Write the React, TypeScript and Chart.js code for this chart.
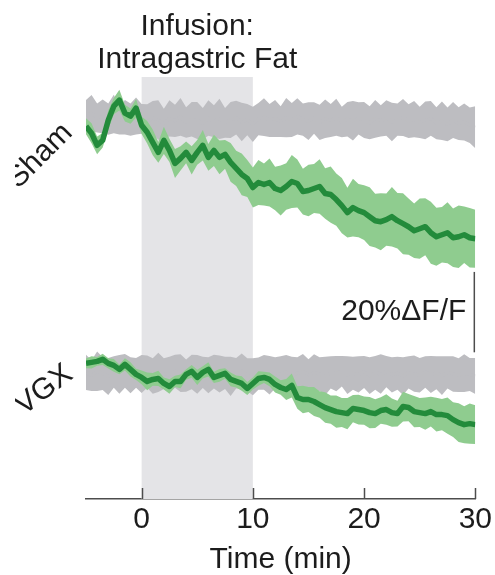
import { useEffect, useRef } from "react";
import { Chart, registerables } from "chart.js";

Chart.register(...registerables);

// Time axis (min)
const TIME: number[] = [
  -5, -4.5, -4, -3.5, -3, -2.5, -2, -1.5, -1, -0.5,
  0, 0.5, 1, 1.5, 2, 2.5, 3, 3.5, 4, 4.5, 5, 5.5, 6, 6.5, 7, 7.5, 8, 8.5, 9, 9.5,
  10, 10.5, 11, 11.5, 12, 12.5, 13, 13.5, 14, 14.5, 15, 15.5, 16, 16.5, 17, 17.5, 18, 18.5, 19, 19.5,
  20, 20.5, 21, 21.5, 22, 22.5, 23, 23.5, 24, 24.5, 25, 25.5, 26, 26.5, 27, 27.5, 28, 28.5, 29, 29.5, 30,
];
const X_TICKS: number[] = [0, 10, 20, 30];
const INFUSION: number[] = [0, 10];
const TITLE_LINES: string[] = ["Infusion:", "Intragastric Fat"];
const X_TITLE = "Time (min)";
const PANELS: string[] = ["Sham", "VGX"];
const SCALE_BAR_LABEL = "20%ΔF/F";
const SCALE_BAR_VALUE = 20;

// %ΔF/F, Sham panel
const SHAM_FAT_MEAN: number[] = [
  -1.25, -3.0, -6.0, -4.75, 0.25, 3.75, 5.25, 2.0, 1.25, 3.25,
  -1.0, -2.75, -5.25, -7.75, -4.75, -7.25, -10.5, -9.25, -7.75, -9.75,
  -7.75, -6.0, -9.0, -7.25, -9.0, -8.25, -10.25, -11.75, -13.25, -14.25,
  -16.5, -15.25, -15.75, -15.25, -16.75, -17.25, -16.25, -15.0, -15.5, -17.5,
  -17.25, -16.75, -16.25, -18.0, -18.25, -19.5, -21.0, -22.75, -21.5, -22.25,
  -22.75, -23.75, -24.75, -25.0, -24.5, -23.75, -24.75, -25.5, -26.25, -27.25,
  -26.75, -26.25, -27.75, -28.75, -28.25, -27.75, -29.0, -28.75, -28.25, -29.0, -29.25,
];
const SHAM_FAT_SEM: number[] = [
  2.0, 2.5, 2.2, 1.8, 2.4, 2.0, 2.6, 2.1, 1.9, 2.3,
  2.2, 2.8, 3.2, 2.6, 3.4, 2.9, 3.6, 3.0, 2.7, 3.5,
  3.1, 3.8, 3.3, 3.9, 4.2, 3.6, 4.8, 4.4, 5.2, 4.6,
  5.0, 5.6, 5.2, 6.0, 5.4, 6.2, 5.8, 6.6, 6.0, 5.7,
  6.4, 6.1, 6.8, 6.3, 7.0, 6.5, 6.9, 6.2, 7.2, 6.6,
  6.8, 7.3, 6.7, 7.1, 6.5, 7.4, 6.9, 7.6, 7.0, 6.8,
  7.5, 7.1, 7.7, 7.2, 6.9, 7.6, 7.3, 7.8, 7.0, 7.4, 7.2,
];
const SHAM_CTRL_MEAN: number[] = [
  1.5, 2.0, 0.8, 1.2, 0.5, 1.8, 0.2, 1.0, 0.4, 1.3,
  0.6, -0.2, 0.9, 0.3, -0.5, 0.7, 0.1, 1.1, -0.3, 0.5,
  0.2, -0.6, 0.8, 0.0, 0.6, -0.4, 0.3, 0.9, -0.2, 0.4,
  -0.8, 0.5, 1.0, 0.2, 0.7, -0.1, 0.9, 0.3, 1.2, 0.4,
  0.0, 0.8, -0.3, 0.6, 0.2, 1.0, -0.2, 0.5, 0.1, 0.7,
  0.3, -0.4, 0.6, 0.1, 0.8, -0.2, 0.4, 0.9, 0.0, 0.5,
  -0.3, 0.2, 0.7, -0.5, 0.1, -0.8, 0.3, -0.6, -0.2, -1.0, -1.5,
];
const SHAM_CTRL_SEM: number[] = [
  3.8, 4.5, 3.6, 4.2, 3.9, 4.8, 3.5, 4.3, 4.0, 4.6,
  3.7, 4.4, 4.1, 4.9, 3.6, 4.5, 4.0, 4.7, 3.8, 4.3,
  4.6, 3.9, 4.4, 4.0, 5.0, 3.7, 4.5, 4.2, 4.8, 3.9,
  4.4, 4.0, 4.7, 4.1, 4.6, 3.8, 4.9, 4.2, 4.5, 4.0,
  4.7, 3.9, 4.4, 4.8, 4.1, 4.6, 3.8, 4.3, 4.9, 4.0,
  4.5, 4.1, 4.7, 3.9, 4.4, 4.8, 4.0, 4.6, 4.2, 4.5,
  3.9, 4.7, 4.3, 4.0, 4.8, 4.2, 4.5, 4.1, 4.6, 4.4, 5.2,
];

// %ΔF/F, VGX panel
const VGX_FAT_MEAN: number[] = [
  2.75, 3.0, 3.25, 3.75, 2.75, 2.25, 1.25, 2.5, 1.25, 0.0,
  -0.75, -1.75, -1.25, -1.0, -2.25, -3.0, -1.75, -1.75, 0.0, 0.75,
  -0.75, 0.5, 1.25, -0.75, -0.25, 0.25, -1.25, -1.75, -2.25, -3.5,
  -2.25, -1.0, -0.75, -1.25, -2.5, -3.25, -3.75, -2.75, -5.75, -6.25,
  -6.25, -6.75, -7.5, -8.25, -8.75, -9.25, -9.5, -9.75, -8.5, -8.75,
  -9.0, -9.5, -9.75, -9.0, -8.75, -9.5, -9.75, -8.0, -8.25, -9.25,
  -9.5, -9.75, -9.25, -10.0, -10.0, -10.25, -11.25, -12.0, -12.5, -12.25, -12.5,
];
const VGX_FAT_SEM: number[] = [
  1.2, 1.5, 1.1, 1.4, 1.3, 1.6, 1.2, 1.5, 1.8, 1.4,
  1.7, 2.2, 1.6, 1.9, 1.5, 1.8, 1.4, 1.7, 1.3, 1.6,
  1.9, 1.5, 1.8, 1.4, 1.6, 1.3, 1.7, 1.5, 1.8, 1.6,
  1.5, 1.8, 1.4, 1.7, 2.0, 1.8, 2.6, 3.0, 2.8, 3.4,
  3.1, 3.6, 3.3, 3.8, 3.5, 4.0, 3.6, 3.9, 3.4, 3.7,
  3.5, 3.9, 3.6, 3.3, 3.8, 3.5, 3.2, 3.7, 3.4, 3.9,
  3.6, 4.0, 3.7, 4.2, 3.9, 4.5, 4.3, 4.8, 4.6, 5.0, 4.8,
];
const VGX_CTRL_MEAN: number[] = [
  0.5, -0.3, 0.8, 0.2, -0.5, 0.6, 0.0, 0.9, -0.2, 0.4,
  0.1, 0.7, -0.4, 0.5, 0.2, -0.1, 0.8, 0.3, -0.3, 0.6,
  0.0, 0.5, -0.2, 0.7, 0.1, 0.4, -0.5, 0.3, 0.8, -0.1,
  -0.6, 0.2, 0.5, -0.2, 0.4, 0.0, 0.6, -0.3, 0.3, 0.7,
  -0.1, 0.4, 0.1, -0.4, 0.5, 0.2, 0.8, -0.2, 0.3, 0.0,
  0.6, -0.3, 0.4, 0.1, 0.7, -0.1, 0.3, -0.4, 0.5, 0.2,
  -0.2, 0.6, 0.0, 0.4, -0.3, 0.5, 0.1, -0.2, 0.3, 0.0, -0.4,
];
const VGX_CTRL_SEM: number[] = [
  4.4, 3.8, 4.9, 4.1, 4.6, 3.9, 4.8, 4.2, 4.5, 3.7,
  4.7, 4.0, 4.4, 4.9, 3.8, 4.5, 4.1, 4.7, 4.0, 4.3,
  4.8, 3.9, 4.5, 4.2, 4.6, 4.0, 4.9, 3.8, 4.4, 4.1,
  4.6, 4.0, 4.3, 4.8, 3.9, 4.5, 4.2, 4.7, 4.0, 4.4,
  3.9, 4.6, 4.2, 4.8, 4.0, 4.4, 3.8, 4.7, 4.1, 4.5,
  4.0, 4.6, 4.2, 4.9, 3.9, 4.4, 4.1, 4.7, 4.0, 4.5,
  4.3, 3.9, 4.6, 4.1, 4.8, 4.0, 4.4, 4.2, 4.7, 4.1, 4.5,
];

// vertical placement of each panel on the shared y scale
const SHAM_OFFSET = 0;
const VGX_OFFSET = -63;
const SCALE_BAR_TOP = -37.5;

const FONT = "'Liberation Sans', Arimo, Arial, sans-serif";
const TEXT = "#1c1c1c";
const AXIS = "#4d4d4d";
const GRAY = "#bdbdc1";
const GREEN = "#238b3b";
const LIGHT_GREEN = "#8fcc8f";
const SHADE = "#e4e4e7";

function pts(mean: number[], sem: number[] | null, sign: number, offset: number) {
  return TIME.map((t, i) => ({ x: t, y: offset + mean[i] + (sem ? sign * sem[i] : 0) }));
}

function panelSets(ctrlMean: number[], ctrlSem: number[], fatMean: number[], fatSem: number[], offset: number) {
  return [
    { data: pts(fatMean, null, 0, offset), borderColor: GREEN, borderWidth: 5.5, order: 0, fill: false },
    { data: pts(fatMean, fatSem, 1, offset), borderWidth: 0, borderColor: "rgba(0,0,0,0)", backgroundColor: LIGHT_GREEN, fill: "+1", order: 1 },
    { data: pts(fatMean, fatSem, -1, offset), borderWidth: 0, borderColor: "rgba(0,0,0,0)", fill: false, order: 1 },
    { data: pts(ctrlMean, null, 0, offset), borderColor: GRAY, borderWidth: 3, order: 2, fill: false },
    { data: pts(ctrlMean, ctrlSem, 1, offset), borderWidth: 0, borderColor: "rgba(0,0,0,0)", backgroundColor: GRAY, fill: "+1", order: 3 },
    { data: pts(ctrlMean, ctrlSem, -1, offset), borderWidth: 0, borderColor: "rgba(0,0,0,0)", fill: false, order: 3 },
  ];
}

const decor = {
  id: "decor",
  beforeDatasetsDraw(chart: any) {
    const { ctx, chartArea, scales } = chart;
    const x = scales.x;
    const x0 = x.getPixelForValue(INFUSION[0]);
    const x1 = x.getPixelForValue(INFUSION[1]);
    ctx.save();
    ctx.fillStyle = SHADE;
    ctx.fillRect(x0, chartArea.top, x1 - x0, chartArea.bottom - chartArea.top);
    ctx.restore();
  },
  afterDraw(chart: any) {
    const { ctx, chartArea, scales } = chart;
    const x = scales.x;
    const y = scales.y;
    ctx.save();
    // inward tick marks
    ctx.strokeStyle = AXIS;
    ctx.lineWidth = 1.5;
    for (const v of X_TICKS) {
      const px = Math.round(x.getPixelForValue(v)) + 0.5;
      ctx.beginPath();
      ctx.moveTo(px, chartArea.bottom);
      ctx.lineTo(px, chartArea.bottom - 11);
      ctx.stroke();
    }
    // scale bar
    const sbx = x.getPixelForValue(x.max) - 1;
    ctx.beginPath();
    ctx.moveTo(sbx, y.getPixelForValue(SCALE_BAR_TOP));
    ctx.lineTo(sbx, y.getPixelForValue(SCALE_BAR_TOP - SCALE_BAR_VALUE));
    ctx.stroke();
    ctx.fillStyle = TEXT;
    ctx.font = `30px ${FONT}`;
    ctx.textAlign = "right";
    ctx.textBaseline = "alphabetic";
    ctx.fillText(SCALE_BAR_LABEL, sbx - 8, y.getPixelForValue(SCALE_BAR_TOP - 12));
    // title
    ctx.textAlign = "center";
    const cx = x.getPixelForValue((INFUSION[0] + INFUSION[1]) / 2);
    ctx.fillText(TITLE_LINES[0], cx, 35);
    ctx.fillText(TITLE_LINES[1], cx, 68);
    // panel labels
    ctx.beginPath();
    ctx.rect(15, 0, 100, chart.height);
    ctx.clip();
    const labels = [
      { text: PANELS[0], cx: 40, cy: 156, rot: -45 },
      { text: PANELS[1], cx: 44, cy: 390, rot: -37 },
    ];
    ctx.textBaseline = "middle";
    for (const l of labels) {
      ctx.save();
      ctx.translate(l.cx, l.cy);
      ctx.rotate((l.rot * Math.PI) / 180);
      ctx.fillText(l.text, 0, 0);
      ctx.restore();
    }
    ctx.restore();
  },
};

export default function App() {
  const ref = useRef<HTMLCanvasElement | null>(null);
  useEffect(() => {
    if (!ref.current) return;
    const datasets = [
      ...panelSets(SHAM_CTRL_MEAN, SHAM_CTRL_SEM, SHAM_FAT_MEAN, SHAM_FAT_SEM, SHAM_OFFSET),
      ...panelSets(VGX_CTRL_MEAN, VGX_CTRL_SEM, VGX_FAT_MEAN, VGX_FAT_SEM, VGX_OFFSET),
    ];
    const chart = new Chart(ref.current, {
      type: "line",
      data: { datasets: datasets as any },
      options: {
        responsive: false,
        animation: false,
        events: [],
        layout: { padding: { left: 86, right: 14, top: 77, bottom: 0 } },
        elements: { point: { radius: 0 }, line: { tension: 0, borderJoinStyle: "round" } },
        plugins: { legend: { display: false }, tooltip: { enabled: false }, title: { display: false } },
        scales: {
          x: {
            type: "linear",
            min: -5,
            max: 30,
            afterBuildTicks: (scale: any) => {
              scale.ticks = X_TICKS.map((v) => ({ value: v }));
            },
            grid: { display: false, drawTicks: false },
            border: { display: true, color: AXIS, width: 1.5 },
            ticks: { font: { size: 30, family: FONT }, color: TEXT, padding: 3, maxRotation: 0, autoSkip: false },
            title: { display: true, text: X_TITLE, font: { size: 30, family: FONT, lineHeight: 1.0 }, color: TEXT, padding: { top: 4, bottom: 0 } },
          },
          y: { display: false, min: -94, max: 11 },
        },
      },
      plugins: [decor],
    });
    return () => chart.destroy();
  }, []);
  return (
    <div style={{ position: "absolute", left: 0, top: 0, width: 495, height: 575, background: "#fff" }}>
      <canvas ref={ref} width={495} height={575} style={{ display: "block" }} />
    </div>
  );
}
